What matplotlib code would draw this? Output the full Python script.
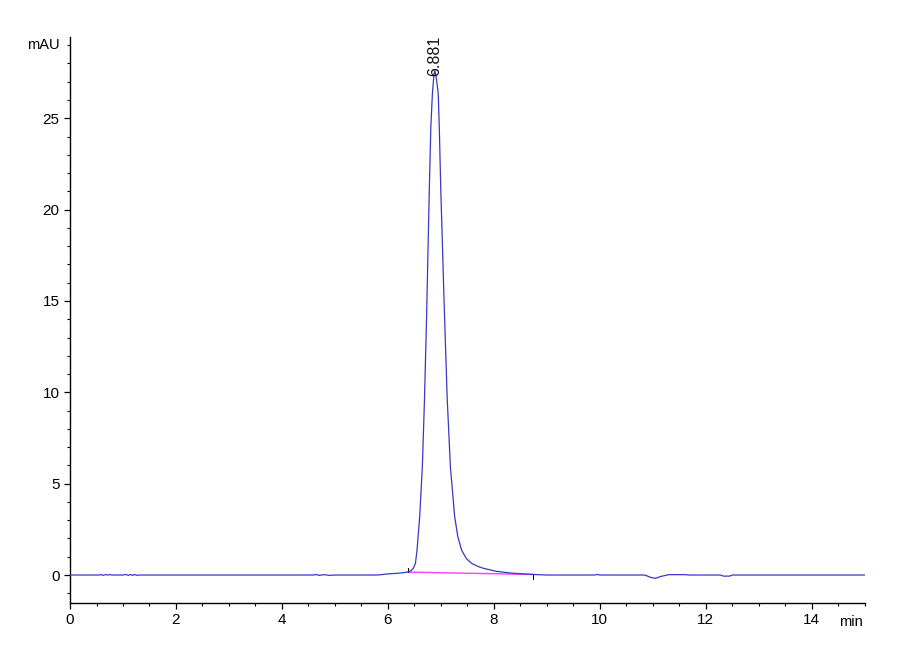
import matplotlib
matplotlib.use("Agg")
import matplotlib.pyplot as plt
from matplotlib.ticker import MultipleLocator

plt.rcParams['font.family'] = ['Liberation Sans Narrow', 'Liberation Sans', 'DejaVu Sans']

# chromatogram trace (min, mAU)
time = [0.0, 0.55, 0.58, 0.62, 0.66, 0.72, 0.75, 0.78, 1.0, 1.05, 1.1, 1.14, 1.18,
        1.22, 1.26, 1.3, 4.6, 4.65, 4.7, 4.8, 4.9, 5.0, 5.8, 5.9, 6.0, 6.1, 6.2,
        6.3, 6.38, 6.44, 6.48, 6.52, 6.55, 6.60, 6.65, 6.69, 6.73, 6.78, 6.81,
        6.84, 6.87, 6.885, 6.91, 6.95, 6.97, 7.00, 7.03, 7.06, 7.12, 7.18, 7.26,
        7.32, 7.39, 7.48, 7.58, 7.70, 7.80, 8.05, 8.35, 8.74, 9.0, 9.9, 9.95,
        10.0, 10.85, 10.95, 11.05, 11.15, 11.3, 11.6, 11.7, 12.28, 12.33, 12.45,
        12.5, 15.0]
signal = [0.0, 0.0, 0.03, -0.02, 0.02, 0.0, 0.03, 0.0, 0.0, 0.03, -0.02, 0.03,
          -0.02, 0.03, -0.02, 0.0, 0.0, 0.03, -0.02, 0.02, -0.02, 0.0, 0.0, 0.03,
          0.06, 0.08, 0.1, 0.13, 0.17, 0.25, 0.37, 0.64, 1.37, 3.19, 5.92, 9.57,
          14.1, 20.9, 24.5, 26.35, 27.4, 27.6, 27.3, 26.35, 24.5, 20.9, 18.0, 15.0,
          9.6, 5.9, 3.2, 2.1, 1.37, 0.9, 0.64, 0.47, 0.37, 0.2, 0.1, 0.03, 0.0,
          0.0, 0.03, 0.0, 0.0, -0.12, -0.18, -0.08, 0.02, 0.02, 0.0, 0.0, -0.06,
          -0.06, 0.0, 0.0]

# integration baseline and peak marks
base_t = [6.38, 8.74]
base_y = [0.16, 0.03]
peak_rt = 6.881
peak_label = "6.881"

fig = plt.figure(figsize=(9, 6.6), dpi=100)
ax = fig.add_axes([0.0778, 0.0864, 0.883, 0.8576])

ax.plot(time, signal, color='#3838c6', lw=0.9, zorder=3)
ax.plot(base_t, base_y, color='#ff3cff', lw=1.0, zorder=2)
ax.plot([base_t[0], base_t[0]], [base_y[0], base_y[0] + 0.25], color='k', lw=0.7)
ax.plot([base_t[1], base_t[1]], [base_y[1], base_y[1] - 0.25], color='k', lw=0.7)

ax.text(peak_rt, 27.3, peak_label, rotation=90, ha='center', va='bottom',
        fontsize=11.5, color='#111111', family=['Liberation Sans', 'DejaVu Sans'],
        zorder=4)

ax.set_xlim(0, 15)
ax.set_ylim(-1.53, 29.45)

ax.xaxis.set_major_locator(MultipleLocator(2))
ax.xaxis.set_minor_locator(MultipleLocator(0.5))
ax.yaxis.set_major_locator(MultipleLocator(5))
ax.yaxis.set_minor_locator(MultipleLocator(1))
ax.set_xticks([0, 2, 4, 6, 8, 10, 12, 14])

ax.tick_params(which='major', direction='out', length=4.5, width=0.9, labelsize=11, pad=3)
ax.tick_params(which='minor', direction='out', length=2.5, width=0.8)

for side in ['top', 'right']:
    ax.spines[side].set_visible(False)
for side in ['left', 'bottom']:
    ax.spines[side].set_linewidth(1.0)

ax.text(-0.19, 29.0, 'mAU', ha='right', va='center', fontsize=10.5, clip_on=False)
ax.text(14.97, -0.034, 'min', ha='right', va='center', fontsize=10.5,
        transform=ax.get_xaxis_transform(), clip_on=False)

fig.savefig('out.png', dpi=100)
